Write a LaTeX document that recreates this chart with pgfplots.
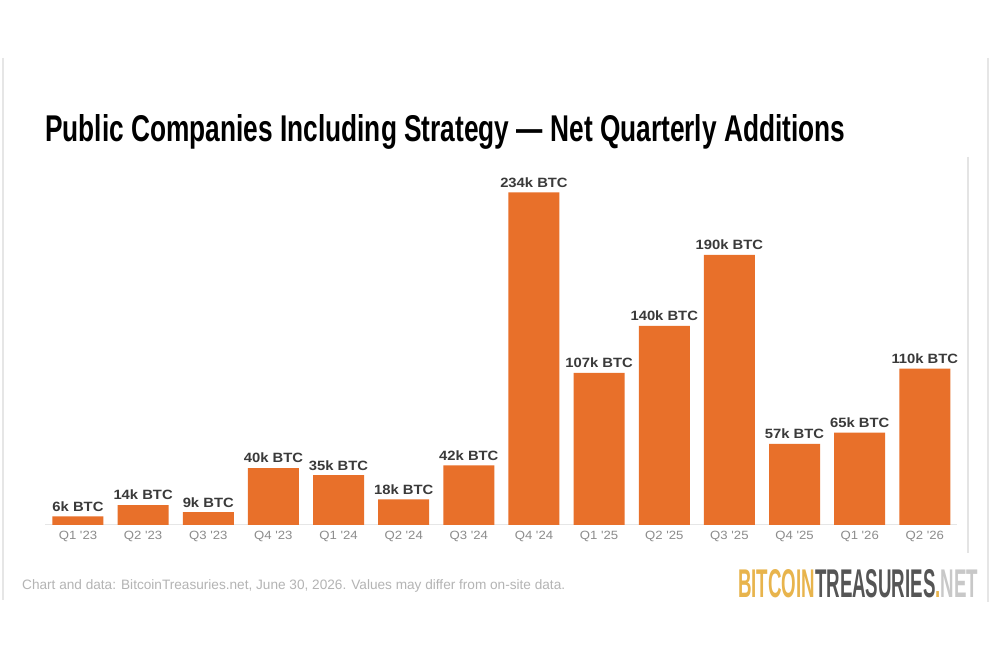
\documentclass[border=0pt]{standalone}
\usepackage{pgfplots}
\pgfplotsset{compat=1.18}
\usepackage{fontspec}
\setmainfont{Liberation Sans}
\newfontfamily\titlefont{Liberation Sans}
\newfontfamily\widefont[FakeStretch=1.1]{Liberation Sans}
\definecolor{barorange}{HTML}{E8702A}
\definecolor{labeldark}{HTML}{3A3A3A}
\definecolor{tickgray}{HTML}{8C8C8C}
\definecolor{footgray}{HTML}{B4B4B4}
\definecolor{logogold}{HTML}{E8B44C}
\definecolor{logodark}{HTML}{555555}
\definecolor{logolight}{HTML}{C8C8C8}
\definecolor{framegray}{HTML}{E6E6E6}
\begin{document}
\begin{tikzpicture}
\fill[white] (0,0) rectangle (990bp,660bp);
% faint screenshot frame lines
\draw[framegray, line width=1.2bp] (3bp,602bp) -- (3bp,60bp);
\draw[framegray, line width=1.2bp] (988bp,602bp) -- (988bp,58bp);
\draw[framegray!80!gray!60, line width=1.5bp] (968bp,503bp) -- (968bp,107bp);
% title
\node[anchor=base west, inner sep=0pt] at (45bp,518bp)
  {\resizebox{800bp}{27bp}{\titlefont\bfseries Public Companies Including Strategy — Net Quarterly Additions}};
\begin{axis}[
  at={(45.4bp,135bp)}, anchor=south west,
  scale only axis, width=912bp, height=369.7bp,
  xmin=-0.5, xmax=13.5, ymin=0, ymax=260,
  axis y line=none, axis x line*=bottom,
  x axis line style={draw=framegray, line width=1bp, -},
  xtick=data, major tick length=0pt,
  xticklabels={Q1 '23,Q2 '23,Q3 '23,Q4 '23,Q1 '24,Q2 '24,Q3 '24,Q4 '24,Q1 '25,Q2 '25,Q3 '25,Q4 '25,Q1 '26,Q2 '26},
  xticklabel style={font=\widefont\fontsize{12}{14}\selectfont, text=tickgray, yshift=-3bp},
  /pgf/number format/assume math mode=true,
  ybar, bar width=51bp, bar shift=0pt,
  nodes near coords={\pgfmathprintnumber{\pgfplotspointmeta}k BTC},
  every node near coord/.append style={font=\widefont\fontsize{13.5}{15}\selectfont\bfseries, text=labeldark, yshift=1.5bp},
  clip=false,
]
\addplot[fill=barorange, draw=none] coordinates {
  (0,6) (1,14) (2,9) (3,40) (4,35) (5,18) (6,42)
  (7,234) (8,107) (9,140) (10,190) (11,57) (12,65) (13,110)
};
\end{axis}
% footnote
\node[anchor=base west, inner sep=0pt, text=footgray] at (22bp,70bp)
  {\resizebox{543bp}{!}{\fontsize{12}{14}\selectfont Chart and data: BitcoinTreasuries.net, June 30, 2026. Values may differ from on-site data.}};
% logo
\node[anchor=base west, inner sep=0pt] at (738bp,62bp)
  {\resizebox{240bp}{28bp}{\titlefont\bfseries\textcolor{logogold}{BITCOIN}\textcolor{logodark}{TREASURIES}\textcolor{logogold}{.}\textcolor{logolight}{NET}}};
\end{tikzpicture}
\end{document}
